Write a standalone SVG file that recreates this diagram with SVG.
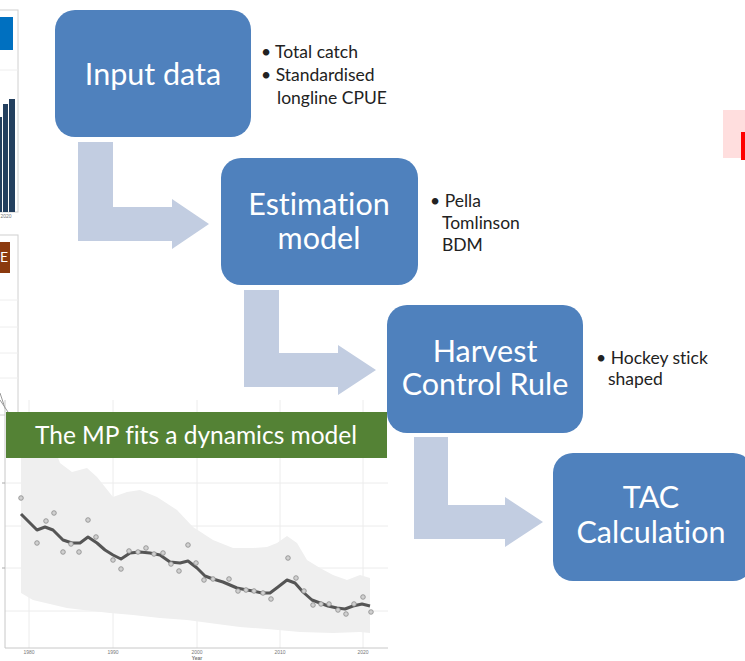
<svg xmlns="http://www.w3.org/2000/svg" width="745" height="661" viewBox="0 0 745 661">
<defs>
<style>
text{font-variant-ligatures:none;font-feature-settings:"liga" 0}
.box{fill:#4f81bd}
.bt{fill:#fff;font-family:Lato,"Open Sans",sans-serif;font-size:30.5px;text-anchor:middle}
.note{fill:#222;font-family:Lato,"Open Sans",sans-serif;font-size:17.5px}
.arr{fill:#c2cde1}
.grid{stroke:#ececec;stroke-width:1;fill:none}
.frame{stroke:#c8c8c8;stroke-width:1;fill:none}
.tick{fill:#777;font-family:"Liberation Sans",sans-serif;font-size:5px;text-anchor:middle}
.pt{fill:#d0d0d0;stroke:#8a8a8a;stroke-width:0.8}
</style>
</defs>
<rect width="745" height="661" fill="#fff"/>

<!-- left edge partial charts -->
<g id="left-chart-1">
<rect x="-1" y="10" width="19" height="202" fill="#fff" stroke="#d0d0d0"/>
<rect x="0" y="17" width="13" height="33" fill="#0070c0"/>
<line x1="0" y1="70" x2="18" y2="70" stroke="#eee"/>
<rect x="0" y="117" width="2" height="95" fill="#24405f"/>
<rect x="3" y="104" width="5" height="108" fill="#24405f"/>
<rect x="9" y="99" width="6" height="113" fill="#24405f"/>
<text x="6" y="218" class="tick" font-size="4">2020</text>
</g>
<g id="left-chart-2">
<rect x="-1" y="235" width="19" height="180" fill="#fff" stroke="#d0d0d0"/>
<rect x="0" y="242" width="10" height="31" fill="#8b3a0f"/>
<text x="0" y="262" fill="#fff" font-family="Lato,sans-serif" font-size="14">E</text>
<line x1="0" y1="300" x2="18" y2="300" stroke="#eee"/>
<line x1="0" y1="327" x2="18" y2="327" stroke="#eee"/>
<line x1="0" y1="353" x2="18" y2="353" stroke="#eee"/>
<line x1="0" y1="378" x2="18" y2="378" stroke="#eee"/>
<line x1="0" y1="393" x2="7" y2="414" stroke="#999"/>
</g>

<g id="red-mark">
<rect x="723" y="110" width="22" height="48" fill="#ffdede"/>
<rect x="741" y="132" width="4" height="28" fill="#ff0000"/>
</g>

<!-- dynamics model chart -->
<g id="fit-chart">
<rect x="5" y="400" width="383" height="248" fill="#fff"/>
<g class="grid">
<line x1="5" y1="483" x2="388" y2="483"/><line x1="5" y1="526" x2="388" y2="526"/>
<line x1="5" y1="568" x2="388" y2="568"/><line x1="5" y1="611" x2="388" y2="611"/>
<line x1="29" y1="400" x2="29" y2="648"/><line x1="113" y1="400" x2="113" y2="648"/>
<line x1="197" y1="400" x2="197" y2="648"/><line x1="280" y1="400" x2="280" y2="648"/>
<line x1="363" y1="400" x2="363" y2="648"/>
</g>
<path fill="#efefef" d="M21,455 L57,455 L60,463 L72,472 L87,468 L97,477 L113,497 L127,492 L140,490 L157,497 L177,510 L193,527 L213,540 L233,548 L253,548 L267,547 L277,543 L287,536 L297,543 L307,560 L320,568 L333,575 L347,580 L360,575 L370,578 L370,633 L360,632 L333,633 L300,632 L267,629 L240,627 L217,624 L187,620 L160,618 L133,615 L110,613 L83,610 L67,608 L50,604 L33,600 L21,593 Z"/>
<path fill="none" stroke="#555" stroke-width="3" stroke-linejoin="round" d="M21,514 L30,523 L37,530 L45,527 L53,530 L63,540 L72,543 L80,543 L88,537 L97,543 L105,550 L113,555 L121,559 L130,553 L140,552 L150,553 L160,555 L170,562 L180,563 L188,561 L197,568 L205,576 L213,579 L223,582 L237,588 L247,590 L253,591 L262,593 L270,593 L278,587 L287,580 L295,583 L303,592 L312,600 L320,603 L328,606 L337,608 L345,609 L353,606 L362,604 L370,606"/>
<g>
<circle class="pt" cx="21" cy="498" r="2.3"/><circle class="pt" cx="37" cy="543" r="2.3"/>
<circle class="pt" cx="46" cy="521" r="2.3"/><circle class="pt" cx="54" cy="513" r="2.3"/>
<circle class="pt" cx="63" cy="552" r="2.3"/><circle class="pt" cx="71" cy="544" r="2.3"/>
<circle class="pt" cx="79" cy="552" r="2.3"/><circle class="pt" cx="88" cy="520" r="2.3"/>
<circle class="pt" cx="96" cy="537" r="2.3"/><circle class="pt" cx="113" cy="560" r="2.3"/>
<circle class="pt" cx="121" cy="569" r="2.3"/><circle class="pt" cx="129" cy="551" r="2.3"/>
<circle class="pt" cx="138" cy="552" r="2.3"/><circle class="pt" cx="146" cy="548" r="2.3"/>
<circle class="pt" cx="154" cy="554" r="2.3"/><circle class="pt" cx="163" cy="553" r="2.3"/>
<circle class="pt" cx="171" cy="564" r="2.3"/><circle class="pt" cx="179" cy="571" r="2.3"/>
<circle class="pt" cx="188" cy="545" r="2.3"/><circle class="pt" cx="196" cy="563" r="2.3"/>
<circle class="pt" cx="204" cy="580" r="2.3"/><circle class="pt" cx="213" cy="579" r="2.3"/>
<circle class="pt" cx="229" cy="579" r="2.3"/><circle class="pt" cx="238" cy="591" r="2.3"/>
<circle class="pt" cx="246" cy="590" r="2.3"/><circle class="pt" cx="254" cy="591" r="2.3"/>
<circle class="pt" cx="263" cy="593" r="2.3"/><circle class="pt" cx="271" cy="599" r="2.3"/>
<circle class="pt" cx="288" cy="558" r="2.3"/><circle class="pt" cx="296" cy="578" r="2.3"/>
<circle class="pt" cx="304" cy="591" r="2.3"/><circle class="pt" cx="313" cy="605" r="2.3"/>
<circle class="pt" cx="321" cy="604" r="2.3"/><circle class="pt" cx="329" cy="604" r="2.3"/>
<circle class="pt" cx="338" cy="610" r="2.3"/><circle class="pt" cx="346" cy="614" r="2.3"/>
<circle class="pt" cx="354" cy="604" r="2.3"/><circle class="pt" cx="363" cy="597" r="2.3"/>
<circle class="pt" cx="371" cy="612" r="2.3"/>
</g>
<path class="frame" d="M5,400 V648 H388"/>
<line x1="2" y1="483" x2="5" y2="483" stroke="#aaa"/>
<line x1="2" y1="568" x2="5" y2="568" stroke="#aaa"/>
<line x1="0" y1="400" x2="8" y2="412" stroke="#999"/>
<line x1="18" y1="400" x2="18" y2="412" stroke="#ccc"/>
<text class="tick" x="29" y="654">1980</text>
<text class="tick" x="113" y="654">1990</text>
<text class="tick" x="197" y="654">2000</text>
<text class="tick" x="280" y="654">2010</text>
<text class="tick" x="363" y="654">2020</text>
<text class="tick" x="197" y="660" font-size="6" font-weight="bold" fill="#555">Year</text>
</g>

<g id="banner">
<rect x="6" y="412" width="381" height="46" fill="#548235"/>
<text x="196" y="444" fill="#fff" font-family="Lato,'Open Sans',sans-serif" font-size="24.5" text-anchor="middle">The MP fits a dynamics model</text>
</g>

<!-- connectors -->
<g id="connectors">
<path class="arr" d="M78,142 H113 V207 H172 V199 L209,224 L172,249 V241 H78 Z"/>
<path class="arr" d="M244,290 H279 V353 H338 V345 L376,370 L338,395 V387 H244 Z"/>
<path class="arr" d="M414,437 H448 V505 H505 V497 L543,522 L505,547 V539 H414 Z"/>
</g>

<g id="input-data">
<rect class="box" x="55" y="10" width="196" height="127" rx="20"/>
<text class="bt" x="153" y="85">Input data</text>
</g>
<g id="estimation-model">
<rect class="box" x="221" y="158" width="197" height="127" rx="20"/>
<text class="bt" x="319" y="215">Estimation</text>
<text class="bt" x="319" y="249">model</text>
</g>
<g id="harvest-control-rule">
<rect class="box" x="387" y="305" width="196" height="128" rx="20"/>
<text class="bt" x="485" y="362">Harvest</text>
<text class="bt" x="485" y="395">Control Rule</text>
</g>
<g id="tac-calculation">
<rect class="box" x="553" y="453" width="200" height="128" rx="20"/>
<text class="bt" x="651" y="508">TAC</text>
<text class="bt" x="651" y="543">Calculation</text>
</g>

<g id="notes-input">
<text class="note" x="261" y="58">• Total catch</text>
<text class="note" x="261" y="81">• Standardised</text>
<text class="note" x="277" y="104">longline CPUE</text>
</g>
<g id="notes-estimation">
<text class="note" x="430" y="207">• Pella</text>
<text class="note" x="442" y="229">Tomlinson</text>
<text class="note" x="442" y="251">BDM</text>
</g>
<g id="notes-hcr">
<text class="note" x="596" y="364">• Hockey stick</text>
<text class="note" x="608" y="385">shaped</text>
</g>
</svg>
